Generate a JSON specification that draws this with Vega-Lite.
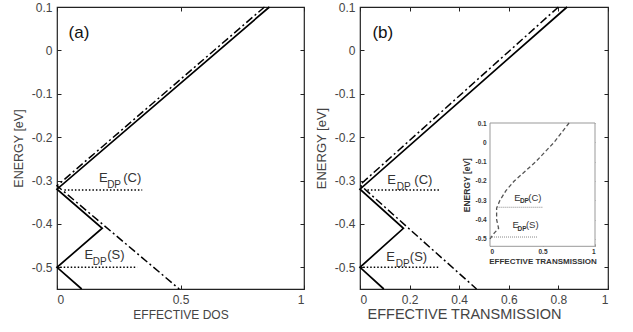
{
  "$schema": "https://vega.github.io/schema/vega-lite/v6.json",
  "padding": {"left": 11, "top": 0, "right": 5, "bottom": 3},
  "background": "white",
  "spacing": 8,
  "config": {
    "view": {"stroke": "#222", "strokeWidth": 1.2},
    "axis": {
      "labelFont": "Liberation Sans", "titleFont": "Liberation Sans",
      "labelFontSize": 12, "titleFontSize": 12, "titleFontWeight": "normal",
      "labelColor": "#444", "titleColor": "#444",
      "domain": false, "grid": false, "tickColor": "#222", "tickSize": -4, "labelPadding": 9
    },
    "text": {"font": "Liberation Sans", "color": "#333"}
  },
  "datasets": {
    "aSolid": [
      {"x": 0.86, "y": 0.1, "o": 1}, {"x": 0, "y": -0.32, "o": 2}, {"x": 0.183, "y": -0.41, "o": 3},
      {"x": 0, "y": -0.5, "o": 4}, {"x": 0.1, "y": -0.55, "o": 5}
    ],
    "aDash": [
      {"x": 0.84, "y": 0.1, "o": 1}, {"x": 0, "y": -0.312, "o": 2}, {"x": 0.495, "y": -0.55, "o": 3}
    ],
    "aDot": [
      {"s": "C", "x": 0.03, "y": -0.322}, {"s": "C", "x": 0.345, "y": -0.322},
      {"s": "S", "x": 0.013, "y": -0.5}, {"s": "S", "x": 0.325, "y": -0.5}
    ],
    "aText": [
      {"t": "E", "x": 0.17, "y": -0.294}, {"t": "(C)", "x": 0.268, "y": -0.294},
      {"t": "E", "x": 0.111, "y": -0.471}, {"t": "(S)", "x": 0.203, "y": -0.471}
    ],
    "aSub": [
      {"t": "DP", "x": 0.203, "y": -0.31}, {"t": "DP", "x": 0.145, "y": -0.487}
    ],
    "aPanel": [{"t": "(a)", "x": 0.047, "y": 0.041}],
    "bSolid": [
      {"x": 0.835, "y": 0.1, "o": 1}, {"x": 0, "y": -0.32, "o": 2}, {"x": 0.175, "y": -0.41, "o": 3},
      {"x": 0, "y": -0.5, "o": 4}, {"x": 0.096, "y": -0.55, "o": 5}
    ],
    "bDash": [
      {"x": 0.8, "y": 0.1, "o": 1}, {"x": 0, "y": -0.31, "o": 2}, {"x": 0.47, "y": -0.55, "o": 3}
    ],
    "bDot": [
      {"s": "C", "x": 0.03, "y": -0.322}, {"s": "C", "x": 0.32, "y": -0.322},
      {"s": "S", "x": 0.013, "y": -0.5}, {"s": "S", "x": 0.32, "y": -0.5}
    ],
    "bText": [
      {"t": "E", "x": 0.11, "y": -0.298}, {"t": "(C)", "x": 0.219, "y": -0.298},
      {"t": "E", "x": 0.106, "y": -0.476}, {"t": "(S)", "x": 0.201, "y": -0.476}
    ],
    "bSub": [
      {"t": "DP", "x": 0.148, "y": -0.315}, {"t": "DP", "x": 0.144, "y": -0.492}
    ],
    "bPanel": [{"t": "(b)", "x": 0.05, "y": 0.039}],
    "insetBox": [{"x0": 0, "x1": 1, "y0": -0.538, "y1": 0.1}],
    "insetCurve": [
      {"x": 0.753, "y": 0.1, "o": 1}, {"x": 0.61, "y": 0.0, "o": 2}, {"x": 0.437, "y": -0.1, "o": 3},
      {"x": 0.231, "y": -0.2, "o": 4}, {"x": 0.152, "y": -0.25, "o": 5}, {"x": 0.095, "y": -0.3, "o": 6},
      {"x": 0.063, "y": -0.34, "o": 7}, {"x": 0.063, "y": -0.4, "o": 8}, {"x": 0.082, "y": -0.445, "o": 9},
      {"x": 0.04, "y": -0.47, "o": 10}, {"x": 0.0, "y": -0.5, "o": 11}
    ],
    "insetDot": [
      {"s": "C", "x": 0.07, "y": -0.336}, {"s": "C", "x": 0.5, "y": -0.336},
      {"s": "S", "x": 0.0, "y": -0.49}, {"s": "S", "x": 0.45, "y": -0.49}
    ],
    "insetText": [
      {"t": "E", "x": 0.23, "y": -0.288}, {"t": "(C)", "x": 0.364, "y": -0.288},
      {"t": "E", "x": 0.215, "y": -0.43}, {"t": "(S)", "x": 0.342, "y": -0.43}
    ],
    "insetSub": [
      {"t": "DP", "x": 0.285, "y": -0.305}, {"t": "DP", "x": 0.262, "y": -0.447}
    ]
  },
  "hconcat": [
    {
      "width": 247, "height": 282,
      "resolve": {"axis": {"x": "independent", "y": "independent"}},
      "layer": [
        {
          "data": {"name": "aSolid"},
          "mark": {"type": "line", "color": "black", "strokeWidth": 1.7},
          "encoding": {
            "x": {"field": "x", "type": "quantitative", "scale": {"domain": [0, 1], "nice": false, "zero": false},
              "axis": {"values": [0, 0.5, 1], "title": "EFFECTIVE DOS", "titlePadding": 4, "labelExpr": "toString(round(datum.value*10)/10)"}},
            "y": {"field": "y", "type": "quantitative", "scale": {"domain": [-0.55, 0.1], "nice": false, "zero": false},
              "axis": {"values": [-0.5, -0.4, -0.3, -0.2, -0.1, 0, 0.1], "title": "ENERGY [eV]", "titleFontSize": 12.5, "titlePadding": 6, "labelExpr": "toString(round(datum.value*10)/10)"}},
            "order": {"field": "o"}
          }
        },
        {
          "data": {"name": "aDash"},
          "mark": {"type": "line", "color": "black", "strokeWidth": 1.5, "strokeDash": [8, 3, 2, 3]},
          "encoding": {
            "x": {"field": "x", "type": "quantitative", "scale": {"domain": [0, 1], "nice": false, "zero": false},
              "axis": {"orient": "top", "values": [0, 0.5, 1], "labels": false, "title": null}},
            "y": {"field": "y", "type": "quantitative", "scale": {"domain": [-0.55, 0.1], "nice": false, "zero": false},
              "axis": {"orient": "right", "values": [-0.5, -0.4, -0.3, -0.2, -0.1, 0, 0.1], "labels": false, "title": null}},
            "order": {"field": "o"}
          }
        },
        {
          "data": {"name": "aDot"},
          "mark": {"type": "line", "color": "black", "strokeWidth": 1.5, "strokeDash": [1.5, 2]},
          "encoding": {
            "x": {"field": "x", "type": "quantitative", "axis": null},
            "y": {"field": "y", "type": "quantitative", "axis": null},
            "detail": {"field": "s"}
          }
        },
        {
          "data": {"name": "aText"},
          "mark": {"type": "text", "align": "left", "baseline": "middle", "fontSize": 13},
          "encoding": {
            "x": {"field": "x", "type": "quantitative", "axis": null},
            "y": {"field": "y", "type": "quantitative", "axis": null},
            "text": {"field": "t"}
          }
        },
        {
          "data": {"name": "aSub"},
          "mark": {"type": "text", "align": "left", "baseline": "middle", "fontSize": 10},
          "encoding": {
            "x": {"field": "x", "type": "quantitative", "axis": null},
            "y": {"field": "y", "type": "quantitative", "axis": null},
            "text": {"field": "t"}
          }
        },
        {
          "data": {"name": "aPanel"},
          "mark": {"type": "text", "align": "left", "baseline": "middle", "fontSize": 17, "color": "#111"},
          "encoding": {
            "x": {"field": "x", "type": "quantitative", "axis": null},
            "y": {"field": "y", "type": "quantitative", "axis": null},
            "text": {"field": "t"}
          }
        }
      ]
    },
    {
      "width": 248, "height": 282,
      "resolve": {"scale": {"x": "independent", "y": "independent"}, "axis": {"x": "independent", "y": "independent"}},
      "layer": [
        {
          "resolve": {"axis": {"x": "independent", "y": "independent"}},
          "layer": [
            {
              "data": {"name": "bSolid"},
              "mark": {"type": "line", "color": "black", "strokeWidth": 1.7},
              "encoding": {
                "x": {"field": "x", "type": "quantitative", "scale": {"domain": [0, 1], "nice": false, "zero": false},
                  "axis": {"values": [0, 0.2, 0.4, 0.6, 0.8, 1], "title": "EFFECTIVE TRANSMISSION", "titleFontSize": 14.5, "titleX": 104, "titleAlign": "center", "titlePadding": 2, "labelExpr": "toString(round(datum.value*10)/10)"}},
                "y": {"field": "y", "type": "quantitative", "scale": {"domain": [-0.55, 0.1], "nice": false, "zero": false},
                  "axis": {"values": [-0.5, -0.4, -0.3, -0.2, -0.1, 0, 0.1], "title": "ENERGY [eV]", "titleFontSize": 13, "titlePadding": 6, "labelExpr": "toString(round(datum.value*10)/10)"}},
                "order": {"field": "o"}
              }
            },
            {
              "data": {"name": "bDash"},
              "mark": {"type": "line", "color": "black", "strokeWidth": 1.5, "strokeDash": [8, 3, 2, 3]},
              "encoding": {
                "x": {"field": "x", "type": "quantitative", "scale": {"domain": [0, 1], "nice": false, "zero": false},
                  "axis": {"orient": "top", "values": [0, 0.2, 0.4, 0.6, 0.8, 1], "labels": false, "title": null}},
                "y": {"field": "y", "type": "quantitative", "scale": {"domain": [-0.55, 0.1], "nice": false, "zero": false},
                  "axis": {"orient": "right", "values": [-0.5, -0.4, -0.3, -0.2, -0.1, 0, 0.1], "labels": false, "title": null}},
                "order": {"field": "o"}
              }
            },
            {
              "data": {"name": "bDot"},
              "mark": {"type": "line", "color": "black", "strokeWidth": 1.5, "strokeDash": [1.5, 2]},
              "encoding": {
                "x": {"field": "x", "type": "quantitative", "axis": null},
                "y": {"field": "y", "type": "quantitative", "axis": null},
                "detail": {"field": "s"}
              }
            },
            {
              "data": {"name": "bText"},
              "mark": {"type": "text", "align": "left", "baseline": "middle", "fontSize": 13},
              "encoding": {
                "x": {"field": "x", "type": "quantitative", "axis": null},
                "y": {"field": "y", "type": "quantitative", "axis": null},
                "text": {"field": "t"}
              }
            },
            {
              "data": {"name": "bSub"},
              "mark": {"type": "text", "align": "left", "baseline": "middle", "fontSize": 10},
              "encoding": {
                "x": {"field": "x", "type": "quantitative", "axis": null},
                "y": {"field": "y", "type": "quantitative", "axis": null},
                "text": {"field": "t"}
              }
            },
            {
              "data": {"name": "bPanel"},
              "mark": {"type": "text", "align": "left", "baseline": "middle", "fontSize": 17, "color": "#111"},
              "encoding": {
                "x": {"field": "x", "type": "quantitative", "axis": null},
                "y": {"field": "y", "type": "quantitative", "axis": null},
                "text": {"field": "t"}
              }
            }
          ]
        },
        {
          "resolve": {"axis": {"x": "independent", "y": "independent"}},
          "layer": [
            {
              "data": {"name": "insetBox"},
              "mark": {"type": "rect", "fill": "white", "stroke": "#999", "strokeWidth": 1},
              "encoding": {
                "x": {"field": "x0", "type": "quantitative", "scale": {"domain": [0, 1], "range": [130, 235], "nice": false, "zero": false},
                  "axis": {"orient": "top", "offset": -116, "values": [0.5], "labels": false, "title": null, "tickSize": -2.5, "tickColor": "#999"}},
                "x2": {"field": "x1"},
                "y": {"field": "y0", "type": "quantitative", "scale": {"domain": [-0.538, 0.1], "range": [239.3, 116], "nice": false, "zero": false},
                  "axis": {"orient": "right", "offset": -13, "values": [-0.5, -0.4, -0.3, -0.2, -0.1, 0, 0.1], "labels": false, "title": null, "tickSize": -2.5, "tickColor": "#999"}},
                "y2": {"field": "y1"}
              }
            },
            {
              "data": {"name": "insetCurve"},
              "mark": {"type": "line", "color": "#555", "strokeWidth": 1.3, "strokeDash": [4, 2.5]},
              "encoding": {
                "x": {"field": "x", "type": "quantitative", "scale": {"domain": [0, 1], "range": [130, 235], "nice": false, "zero": false},
                  "axis": {"orient": "bottom", "offset": -42.7, "values": [0, 0.5, 1], "title": "EFFECTIVE TRANSMISSION", "labelExpr": "toString(round(datum.value*10)/10)",
                    "labelFontSize": 6.5, "labelFontWeight": "bold", "labelColor": "#333", "titleFontSize": 8, "titleFontWeight": "bold", "titleColor": "#333",
                    "tickSize": -2.5, "tickColor": "#999", "labelPadding": 5, "titlePadding": 2}},
                "y": {"field": "y", "type": "quantitative", "scale": {"domain": [-0.538, 0.1], "range": [239.3, 116], "nice": false, "zero": false},
                  "axis": {"orient": "left", "offset": -129.7, "values": [-0.5, -0.4, -0.3, -0.2, -0.1, 0, 0.1], "title": "ENERGY [eV]", "labelExpr": "toString(round(datum.value*10)/10)",
                    "labelFontSize": 6.5, "labelFontWeight": "bold", "labelColor": "#333", "titleFontSize": 8.5, "titleFontWeight": "bold", "titleColor": "#333",
                    "tickSize": -2.5, "tickColor": "#999", "labelPadding": 6, "titlePadding": 3}},
                "order": {"field": "o"}
              }
            },
            {
              "data": {"name": "insetDot"},
              "mark": {"type": "line", "color": "#888", "strokeWidth": 1, "strokeDash": [1, 1]},
              "encoding": {
                "x": {"field": "x", "type": "quantitative", "axis": null},
                "y": {"field": "y", "type": "quantitative", "axis": null},
                "detail": {"field": "s"}
              }
            },
            {
              "data": {"name": "insetText"},
              "mark": {"type": "text", "align": "left", "baseline": "middle", "fontSize": 9.5, "color": "#333"},
              "encoding": {
                "x": {"field": "x", "type": "quantitative", "axis": null},
                "y": {"field": "y", "type": "quantitative", "axis": null},
                "text": {"field": "t"}
              }
            },
            {
              "data": {"name": "insetSub"},
              "mark": {"type": "text", "align": "left", "baseline": "middle", "fontSize": 6.5, "fontWeight": "bold", "color": "#333"},
              "encoding": {
                "x": {"field": "x", "type": "quantitative", "axis": null},
                "y": {"field": "y", "type": "quantitative", "axis": null},
                "text": {"field": "t"}
              }
            }
          ]
        }
      ]
    }
  ]
}
